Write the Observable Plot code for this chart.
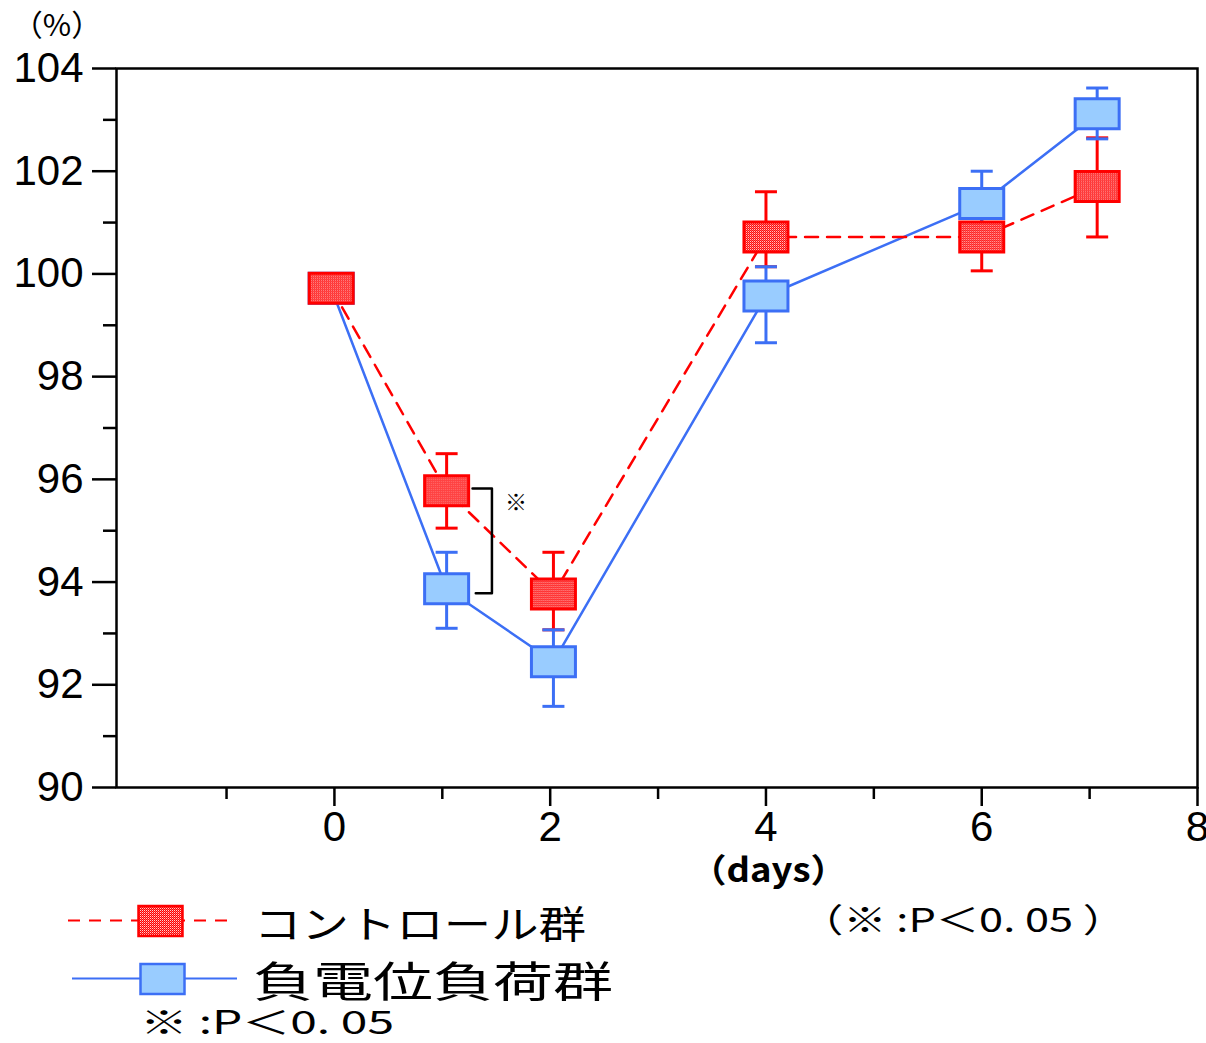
<!DOCTYPE html>
<html>
<head>
<meta charset="utf-8">
<script src="https://cdn.jsdelivr.net/npm/d3@7"></script>
<script src="https://cdn.jsdelivr.net/npm/@observablehq/plot@0.6"></script>
<style>
  html, body { margin: 0; padding: 0; background: #fff; }
  #wrap { position: relative; width: 1206px; height: 1043px; overflow: hidden; background: #fff; }
  #chart svg { display: block; }
  #overlay { position: absolute; left: 0; top: 0; pointer-events: none; }
</style>
</head>
<body>
<div id="wrap">
  <div id="chart"></div>
  <svg id="overlay" width="1206" height="1043" xmlns="http://www.w3.org/2000/svg">
    <defs>
      <pattern id="redpat" width="2" height="2" patternUnits="userSpaceOnUse">
        <rect width="2" height="2" fill="#ff0000"></rect>
        <rect x="0" y="0" width="1" height="1" fill="#ffd0d0"></rect>
        <rect x="1" y="1" width="1" height="1" fill="#ff6060"></rect>
      </pattern>
    </defs>
    <g id="legend"></g>
    <g id="notes"></g>
  </svg>
</div>
<script>
// ---- data ----
const days = [-0.03, 1.04, 2.03, 4, 6, 7.07];
const controlMean = [99.72, 95.78, 93.77, 100.72, 100.72, 101.70];
const controlHigh = [99.72, 96.50, 94.58, 101.60, 101.40, 102.65];
const controlLow  = [99.72, 95.05, 93.07, 100.14, 100.06, 100.72];
const loadMean    = [99.72, 93.87, 92.45, 99.57, 101.37, 103.12];
const loadHigh    = [99.72, 94.58, 93.07, 100.14, 102.00, 103.62];
const loadLow     = [99.72, 93.10, 91.58, 98.66, 100.80, 102.63];

const seriesNames = ["コントロール群", "負電位負荷群"];
const yMajor = [90, 92, 94, 96, 98, 100, 102, 104];
const yMinor = [91, 93, 95, 97, 99, 101, 103];
const xMajor = [0, 2, 4, 6, 8];
const xMinor = [-1, 1, 3, 5, 7];
const xDomain = [-2.02, 8];
const yDomain = [90, 104];

// significance bracket (day 1) and its mark
const sigX = [1.28, 1.46, 1.46, 1.31];
const sigY = [95.82, 95.82, 93.78, 93.78];
const sigMarkX = [1.58];
const sigMarkY = [95.55];
const sigMarkText = ["※"];

const xLabel = "（days）";
const yUnit = "（%）";
const noteText = "※ :P＜0. 05";
const noteTextRight = "（※ :P＜0. 05 ）";

// ---- tables ----
const RED = "#ff0000";
const BLUE = "#3c6ff5";
const BLUEFILL = "#99ccff";

const control = days.map((d, i) => ({day: d, mean: controlMean[i], hi: controlHigh[i], lo: controlLow[i]}));
const load = days.map((d, i) => ({day: d, mean: loadMean[i], hi: loadHigh[i], lo: loadLow[i]}));
const sig = sigX.map((x, i) => ({x, y: sigY[i]}));
const sigMark = sigMarkX.map((x, i) => ({x, y: sigMarkY[i], t: sigMarkText[i]}));

const capSym = {draw(ctx) { ctx.moveTo(-11, 0); ctx.lineTo(11, 0); }};
const boxSym = {draw(ctx) { ctx.rect(-22, -15, 44, 30); }};

const errMarks = (data, color) => [
  Plot.ruleX(data, {x: "day", y1: "lo", y2: "hi", stroke: color, strokeWidth: 3}),
  Plot.dot(data, {x: "day", y: "lo", symbol: capSym, fill: "none", stroke: color, strokeWidth: 3}),
  Plot.dot(data, {x: "day", y: "hi", symbol: capSym, fill: "none", stroke: color, strokeWidth: 3})
];

const chart = Plot.plot({
  width: 1206,
  height: 850,
  marginLeft: 116,
  marginRight: 9,
  marginTop: 68,
  marginBottom: 63,
  x: {domain: xDomain},
  y: {domain: yDomain},
  style: {fontFamily: "'Liberation Sans', Arial, sans-serif", fontSize: "42px", color: "#000", background: "transparent", overflow: "visible"},
  marks: [
    Plot.axisY({ticks: yMajor, tickSize: 24, tickPadding: 9, strokeWidth: 2.5, label: null, fontSize: 42}),
    Plot.axisY({ticks: yMinor, tickSize: 13, tickFormat: () => "", strokeWidth: 2.5, label: null}),
    Plot.axisX({ticks: xMajor, tickSize: 19, tickPadding: 5, strokeWidth: 2.5, label: null, fontSize: 42}),
    Plot.axisX({ticks: xMinor, tickSize: 12, tickFormat: () => "", strokeWidth: 2.5, label: null}),
    Plot.frame({stroke: "#000", strokeWidth: 2.5}),
    Plot.line(load, {x: "day", y: "mean", stroke: BLUE, strokeWidth: 2.5}),
    Plot.line(control, {x: "day", y: "mean", stroke: RED, strokeWidth: 2.5, strokeDasharray: "13,9"}),
    ...errMarks(control, RED),
    ...errMarks(load, BLUE),
    Plot.dot(load, {x: "day", y: "mean", symbol: boxSym, fill: BLUEFILL, stroke: BLUE, strokeWidth: 3}),
    Plot.dot(control, {x: "day", y: "mean", symbol: boxSym, fill: "url(#redpat)", stroke: RED, strokeWidth: 3}),
    Plot.line(sig, {x: "x", y: "y", stroke: "#000", strokeWidth: 2.5}),
    Plot.text(sigMark, {x: "x", y: "y", text: "t", fontSize: 22, fontFamily: "'Noto Sans CJK JP'", textAnchor: "start"})
  ]
});
document.getElementById("chart").appendChild(chart);

// ---- legend & notes (overlay) ----
const ns = "http://www.w3.org/2000/svg";
function el(parent, tag, attrs, text) {
  const e = document.createElementNS(ns, tag);
  for (const k in attrs) e.setAttribute(k, attrs[k]);
  if (text != null) e.textContent = text;
  parent.appendChild(e);
  return e;
}
const lg = document.getElementById("legend");
el(lg, "line", {x1: 68, x2: 236, y1: 920.5, y2: 920.5, stroke: RED, "stroke-width": 2, "stroke-dasharray": "12,9"});
el(lg, "rect", {x: 138.5, y: 906, width: 44, height: 30, fill: "url(#redpat)", stroke: RED, "stroke-width": 2.5});
el(lg, "line", {x1: 72, x2: 237, y1: 978.5, y2: 978.5, stroke: BLUE, "stroke-width": 2});
el(lg, "rect", {x: 140.5, y: 964, width: 44, height: 30, fill: BLUEFILL, stroke: BLUE, "stroke-width": 2.5});

const cjk = "'Noto Sans CJK JP', sans-serif";
el(lg, "text", {x: 254, y: 938, "font-family": cjk, "font-size": 38, textLength: 332, lengthAdjust: "spacingAndGlyphs"}, seriesNames[0]);
el(lg, "text", {x: 253, y: 997, "font-family": cjk, "font-size": 42, textLength: 360, lengthAdjust: "spacingAndGlyphs"}, seriesNames[1]);

const nt = document.getElementById("notes");
el(nt, "text", {x: 140, y: 1034, "font-family": cjk, "font-size": 32, textLength: 254, lengthAdjust: "spacingAndGlyphs"}, noteText);
el(nt, "text", {x: 800, y: 932, "font-family": cjk, "font-size": 33, textLength: 326, lengthAdjust: "spacingAndGlyphs"}, noteTextRight);
el(nt, "text", {x: 690, y: 882, "font-family": cjk, "font-weight": "bold", "font-size": 33, textLength: 157, lengthAdjust: "spacingAndGlyphs"}, xLabel);
el(nt, "text", {x: 12, y: 36, "font-family": cjk, "font-size": 30, textLength: 90, lengthAdjust: "spacingAndGlyphs"}, yUnit);
</script>
</body>
</html>
